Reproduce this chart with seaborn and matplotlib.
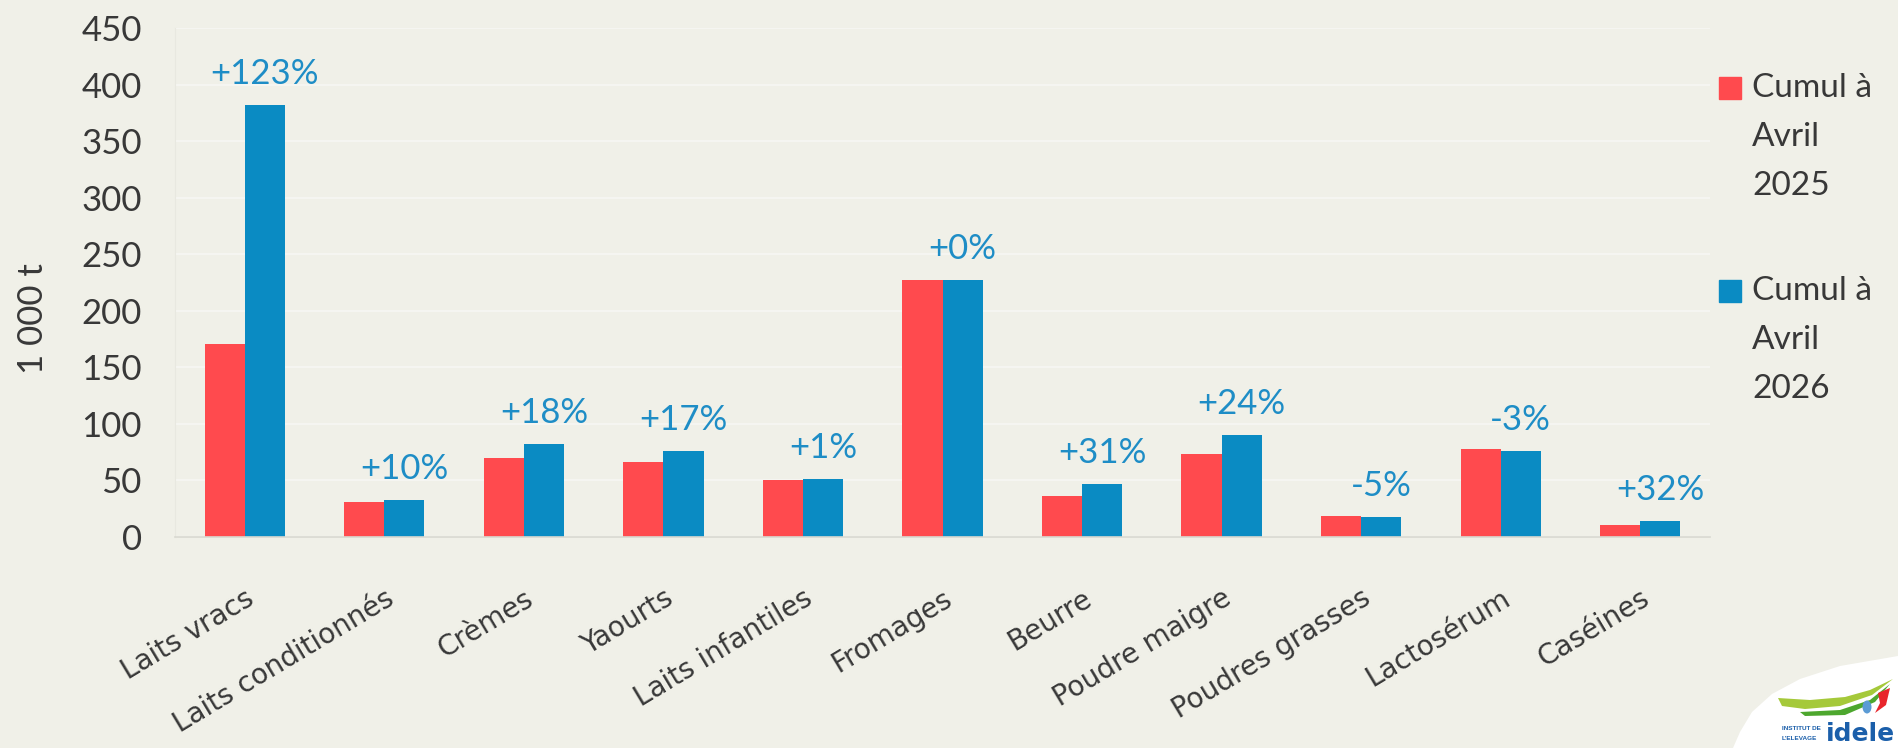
import textwrap
import numpy as np
import pandas as pd
import matplotlib
matplotlib.use("Agg")
import matplotlib.pyplot as plt
import seaborn as sns
from matplotlib.patches import Rectangle, Polygon, Ellipse

# ---------------- data ----------------
categories = ["Laits vracs", "Laits conditionnés", "Crèmes", "Yaourts",
              "Laits infantiles", "Fromages", "Beurre", "Poudre maigre",
              "Poudres grasses", "Lactosérum", "Caséines"]
series = ["Cumul à Avril 2025", "Cumul à Avril 2026"]
values_2025 = [171, 31, 70, 66, 50, 227, 36, 73, 18.5, 78, 10.5]
values_2026 = [382, 33, 82, 76, 51, 227, 47, 90, 17.5, 76, 14]
pct_labels = ["+123%", "+10%", "+18%", "+17%", "+1%", "+0%", "+31%",
              "+24%", "-5%", "-3%", "+32%"]
y_ticks = [0, 50, 100, 150, 200, 250, 300, 350, 400, 450]
y_label = "1 000 t"

# ---------------- style ----------------
W, H = 1898, 748
BG = "#F0F0E8"
RED = "#FF4A4E"
BLUE = "#0A8BC3"
LBL_BLUE = "#1E8DC6"
TXT = "#383838"
sns.set_style("white")
plt.rcParams["font.family"] = ["Lato", "DejaVu Sans"]

fig = plt.figure(figsize=(W / 100, H / 100), dpi=100, facecolor=BG)
ax = fig.add_axes([175 / W, 1 - 537 / H, (1710 - 175) / W, (537 - 28) / H])
ax.set_facecolor(BG)

df = pd.DataFrame({
    "cat": categories * 2,
    "val": values_2025 + values_2026,
    "series": [series[0]] * len(categories) + [series[1]] * len(categories),
})
sns.barplot(data=df, x="cat", y="val", hue="series", order=categories,
            hue_order=series, palette=[RED, BLUE], width=0.575, gap=0,
            saturation=1, linewidth=0, legend=False, ax=ax)

ax.set_xlim(-0.5, len(categories) - 0.5)
ax.set_ylim(0, 450)
ax.set_yticks(y_ticks)
ax.set_yticklabels([str(v) for v in y_ticks], fontsize=25, color=TXT)
ax.grid(axis="y", color="#F7F7F3", lw=1.2)
ax.grid(axis="x", visible=False)
ax.set_axisbelow(True)
for s in ["top", "right"]:
    ax.spines[s].set_visible(False)
ax.spines["left"].set_color("#E8E8E0")
ax.spines["bottom"].set_color("#D9D9D1")
ax.spines["bottom"].set_linewidth(1.2)
ax.tick_params(axis="y", length=0, pad=24)

ax.set_xticks(range(len(categories)))
ax.set_xticklabels(categories, rotation=31, ha="right", rotation_mode="anchor",
                   fontsize=20, family="DejaVu Sans", color=TXT)
ax.tick_params(axis="x", which="major", length=0, pad=34)
ax.set_xticks(np.arange(-0.5, len(categories), 1), minor=True)
ax.tick_params(axis="x", which="minor", length=10, color="#DCDCD4", width=1.2)
ax.set_xlabel("")
ax.set_ylabel(y_label, fontsize=25, color=TXT)
ax.yaxis.set_label_coords(-0.082, 0.43)

# percentage labels above the 2026 bars
for bar, lab in zip(ax.containers[1], pct_labels):
    cx = bar.get_x() + bar.get_width() / 2
    ax.annotate(lab, (cx, bar.get_height()), xytext=(0, 15),
                textcoords="offset points", ha="center", va="baseline",
                fontsize=25, color=LBL_BLUE)

# legend (manual, marker aligned on first line)
leg_top = [88, 291]
for name, col, yc in zip(series, [RED, BLUE], leg_top):
    fig.patches.append(Rectangle((1719 / W, 1 - (yc + 11) / H), 22 / W, 22 / H,
                                 transform=fig.transFigure, color=col))
    fig.text(1752 / W, 1 - (yc - 15) / H, textwrap.fill(name, 8), fontsize=24,
             color=TXT, va="top", ha="left", linespacing=1.8,
             transform=fig.transFigure)

# logo bottom-right
def fp(pts):
    return [(x / W, 1 - y / H) for x, y in pts]

fig.patches.append(Polygon(fp([(1733, 748), (1740, 732), (1752, 712), (1772, 694),
                               (1800, 679), (1840, 666), (1898, 656), (1898, 748)]),
                           closed=True, transform=fig.transFigure,
                           facecolor="white", edgecolor="none"))
fig.patches.append(Polygon(fp([(1778, 698), (1810, 700), (1845, 697), (1870, 690),
                               (1893, 679), (1872, 695), (1840, 706), (1805, 709),
                               (1782, 706)]),
                           closed=True, transform=fig.transFigure,
                           facecolor="#A5C93A", edgecolor="none"))
fig.patches.append(Polygon(fp([(1800, 712), (1840, 710), (1870, 700), (1890, 684),
                               (1875, 702), (1845, 715), (1805, 716)]),
                           closed=True, transform=fig.transFigure,
                           facecolor="#4DA72E", edgecolor="none"))
fig.patches.append(Polygon(fp([(1878, 693), (1890, 688), (1886, 705), (1875, 713),
                               (1880, 703)]),
                           closed=True, transform=fig.transFigure,
                           facecolor="#E8262C", edgecolor="none"))
fig.patches.append(Ellipse((1867 / W, 1 - 707 / H), 9 / W, 13 / H,
                           transform=fig.transFigure, facecolor="#5B9BD5",
                           edgecolor="none"))
fig.text(1782 / W, 1 - 730 / H, "INSTITUT DE", fontsize=4.6, fontweight="bold",
         color="#1B5FAA", family="Liberation Sans", va="baseline")
fig.text(1782 / W, 1 - 740 / H, "L'ELEVAGE", fontsize=4.6, fontweight="bold",
         color="#1B5FAA", family="Liberation Sans", va="baseline")
fig.text(1826 / W, 1 - 741 / H, "idele", fontsize=18, fontweight="bold",
         color="#1B5FAA", family="DejaVu Sans", va="baseline")

fig.savefig("out.png", dpi=100, facecolor=BG)
